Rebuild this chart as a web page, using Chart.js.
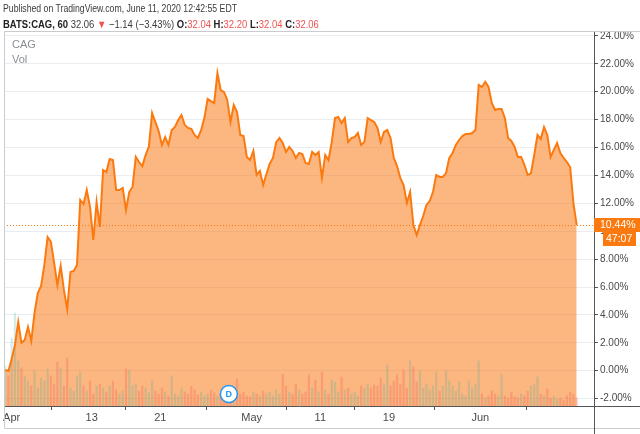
<!DOCTYPE html>
<html>
<head>
<meta charset="utf-8">
<script src="https://cdn.jsdelivr.net/npm/chart.js@4.4.0/dist/chart.umd.min.js"></script>
<style>
  html, body { margin: 0; padding: 0; background: #fff; }
  #wrap { position: relative; width: 640px; height: 434px; overflow: hidden; }
  #c { position: absolute; left: 0; top: 0; }
  .txt { position: absolute; white-space: nowrap; font-family: 'Liberation Sans', sans-serif; font-size: 11px; color: #3b3b3b; transform-origin: left top; }
  .b { font-weight: bold; color: #222; }
  .r { color: #ef5350; }
  .lg { color: #8a8d96; font-size: 11px; }
</style>
</head>
<body>
<div id="wrap">
  <canvas id="c" width="640" height="434"></canvas>
  <div class="txt" style="left:3px; top:2px; transform: scaleX(0.79);">Published on TradingView.com, June 11, 2020 12:42:55 EDT</div>
  <div class="txt" style="left:3px; top:18px; transform: scaleX(0.86);"><span class="b">BATS:CAG, 60</span> 32.06 <span class="r">▼</span> −1.14 (−3.43%) <span class="b">O:</span><span class="r">32.04</span> <span class="b">H:</span><span class="r">32.20</span> <span class="b">L:</span><span class="r">32.04</span> <span class="b">C:</span><span class="r">32.06</span></div>
  <div class="txt lg" style="left:12px; top:38px;">CAG</div>
  <div class="txt lg" style="left:12px; top:53px;">Vol</div>
</div>
<script>
// hourly bars, index 0 = Apr 1 09:30, one value every 2 bars
const firstBar = -4;
const barStep = 2;
const tickBars = [0, 49, 91, 147, 189, 231, 287];
const tickLabels = ['Apr', '13', '21', 'May', '11', '19', 'Jun'];
const yTicks = [-2, 0, 2, 4, 6, 8, 10, 12, 14, 16, 18, 20, 22, 24];
const dividendBar = 133;
const countdown = '47:07';

// % change since start
const pct = [
  0.05, -0.02, 0.84, 1.84, 3.49, 2.0, 2.20, 3.13, 2.13, 4.14,
  5.57, 6.07, 7.58, 9.58, 9.23, 7.72, 6.14, 7.51, 5.79, 4.4,
  7.08, 7.15, 7.58, 12.24, 11.95, 12.95, 11.73, 9.37, 12.09, 10.30,
  14.39, 14.24, 15.18, 15.10, 12.95, 12.95, 13.10, 11.52, 12.81, 13.17,
  15.32, 14.96, 14.67, 15.46, 16.04, 18.47, 17.83, 17.18, 16.18, 16.75,
  16.18, 17.25, 17.47, 17.97, 18.33, 17.61, 17.40, 17.33, 16.90, 16.68,
  17.25, 18.11, 19.48, 19.33, 19.19, 21.34, 20.12, 19.98, 19.41, 17.83,
  19.05, 18.54, 16.90, 16.82, 15.32, 15.10, 15.75, 14.03, 14.32, 13.31,
  14.10, 14.82, 15.25, 16.39, 16.68, 16.32, 15.68, 16.04, 15.75, 15.25,
  15.61, 15.53, 14.89, 14.82, 15.68, 15.46, 15.68, 13.81, 15.46, 15.10,
  16.39, 18.11, 18.19, 17.76, 18.11, 16.39, 16.68, 16.75, 17.04, 16.18,
  16.39, 18.11, 17.97, 17.83, 17.40, 16.39, 17.11, 17.25, 16.68, 15.25,
  14.67, 13.81, 13.31, 12.02, 12.81, 10.44, 9.73, 10.44, 11.09, 11.88,
  12.16, 12.81, 14.03, 13.89, 13.89, 14.17, 15.25, 15.61, 16.18, 16.54,
  16.82, 16.97, 16.97, 17.04, 17.25, 20.48, 20.34, 20.70, 20.34, 19.19,
  18.69, 18.76, 18.76, 18.11, 16.68, 16.47, 16.04, 15.32, 15.32, 14.75,
  14.03, 14.17, 15.46, 16.90, 16.61, 17.47, 16.90, 15.32, 15.82, 16.32,
  15.61, 15.25, 14.96, 14.60, 12.02, 10.44
];

// volume, thousands of shares
const vol = [
  400, 300, 680, 930, 450, 380, 300, 250, 200, 350,
  180, 280, 250, 370, 300, 220, 440, 380, 200, 480,
  180, 150, 300, 340, 200, 150, 250, 120, 200, 220,
  180, 140, 200, 250, 160, 120, 150, 370, 360, 200,
  220, 150, 200, 180, 130, 250, 150, 120, 180, 140,
  100, 300, 120, 100, 180, 140, 120, 200, 160, 110,
  140, 100, 120, 160, 130, 100, 120, 90, 120, 160,
  100, 270, 120, 140, 100, 90, 140, 120, 100, 150,
  120, 140, 100, 160, 120, 320, 200, 140, 120, 220,
  160, 120, 140, 310, 180, 260, 140, 340, 160, 120,
  260, 240, 140, 290, 160, 180, 120, 140, 100, 200,
  180, 220, 180, 210, 200, 280, 220, 410, 200, 250,
  310, 220, 360, 180, 450, 390, 240, 350, 180, 220,
  160, 200, 340, 150, 200, 350, 250, 200, 150, 240,
  120, 100, 250, 180, 220, 450, 120, 80, 100, 150,
  120, 100, 320, 100, 80, 140, 90, 80, 120, 100,
  150, 200, 220, 290, 120, 100, 170, 80, 100, 70,
  80, 60, 100, 140, 120, 80
];

const bars = pct.map((_, i) => firstBar + i * barStep);
const lineData = pct.map((v, i) => ({ x: bars[i], y: v }));
const volData = vol.map((v, i) => ({ x: bars[i], y: v }));
const volColors = pct.map((v, i) => (i === 0 || v >= pct[i - 1]) ? 'rgba(38,166,154,0.2)' : 'rgba(239,83,80,0.28)');

const FONT = "'Liberation Sans', sans-serif";
const ORANGE = '#fb7a10';

const overlay = {
  id: 'overlay',
  afterDatasetsDraw(chart) {
    const { ctx, chartArea: a, scales } = chart;
    const last = pct[pct.length - 1];
    const y = Math.round(scales.y.getPixelForValue(last)) + 0.5;
    ctx.save();
    ctx.strokeStyle = ORANGE;
    ctx.lineWidth = 1;
    ctx.setLineDash([1, 2]);
    ctx.beginPath(); ctx.moveTo(a.left, y); ctx.lineTo(a.right, y); ctx.stroke();
    ctx.setLineDash([]);
    // dividend marker
    const dx = scales.x.getPixelForValue(dividendBar);
    const dy = a.bottom - 12;
    ctx.beginPath(); ctx.arc(dx, dy, 8.5, 0, Math.PI * 2);
    ctx.fillStyle = '#fff'; ctx.fill();
    ctx.strokeStyle = '#2196f3'; ctx.lineWidth = 1.5; ctx.stroke();
    ctx.fillStyle = '#2196f3'; ctx.font = 'bold 9px ' + FONT;
    ctx.textAlign = 'center'; ctx.textBaseline = 'middle';
    ctx.fillText('D', dx, dy + 0.5);
    ctx.restore();
  },
  afterDraw(chart) {
    const { ctx, chartArea: a, scales, width } = chart;
    const last = pct[pct.length - 1];
    const y = Math.round(scales.y.getPixelForValue(last));
    ctx.save();
    // frame
    ctx.strokeStyle = '#c9cbd1';
    ctx.lineWidth = 1;
    ctx.beginPath();
    ctx.moveTo(4.5, 428); ctx.lineTo(4.5, a.top - 0.5); ctx.lineTo(width, a.top - 0.5);
    ctx.moveTo(4.5, 428.5); ctx.lineTo(width, 428.5);
    ctx.stroke();
    ctx.strokeStyle = '#555';
    ctx.beginPath();
    ctx.moveTo(a.right, a.bottom + 0.5); ctx.lineTo(width, a.bottom + 0.5);
    ctx.moveTo(a.right + 0.5, a.bottom); ctx.lineTo(a.right + 0.5, 434);
    ctx.stroke();
    // price tag
    ctx.fillStyle = ORANGE;
    ctx.fillRect(a.right, y - 7, width - a.right, 14);
    ctx.fillRect(a.right + 9, y + 7, 33, 14);
    ctx.fillStyle = '#fff';
    ctx.font = '10.5px ' + FONT;
    ctx.textBaseline = 'middle';
    ctx.textAlign = 'left';
    ctx.fillText(last.toFixed(2) + '%', a.right + 6, y + 0.5);
    ctx.fillText(countdown, a.right + 12, y + 14.5);
    ctx.restore();
  }
};

new Chart(document.getElementById('c'), {
  type: 'line',
  data: {
    datasets: [
      {
        type: 'line',
        label: 'CAG',
        data: lineData,
        borderColor: ORANGE,
        borderWidth: 2,
        backgroundColor: 'rgba(250,122,22,0.54)',
        fill: 'start',
        pointRadius: 0,
        tension: 0,
        yAxisID: 'y',
        order: 0
      },
      {
        type: 'bar',
        label: 'Vol',
        data: volData,
        backgroundColor: volColors,
        barThickness: 1.6,
        yAxisID: 'v',
        order: 1
      }
    ]
  },
  options: {
    responsive: false,
    animation: false,
    events: [],
    layout: { padding: { left: 4, top: 32, right: 0, bottom: 6 } },
    plugins: {
      legend: { display: false },
      tooltip: { enabled: false },
      filler: { drawTime: 'beforeDatasetsDraw' }
    },
    scales: {
      x: {
        type: 'linear',
        min: -4.7,
        max: 356.6,
        offset: false,
        afterBuildTicks: s => { s.ticks = tickBars.map(v => ({ value: v })); },
        afterFit: s => { s.height = 22; },
        ticks: {
          callback: (v, i) => tickLabels[i],
          autoSkip: false,
          maxRotation: 0,
          padding: 1,
          color: '#4a4a4a',
          font: { size: 11, family: FONT }
        },
        grid: { drawOnChartArea: false, tickLength: 4, tickColor: '#555' },
        border: { color: '#555' }
      },
      y: {
        position: 'right',
        min: -2.53,
        max: 24.28,
        afterBuildTicks: s => { s.ticks = yTicks.map(v => ({ value: v })); },
        afterFit: s => { s.width = 46; },
        ticks: {
          callback: v => v.toFixed(2) + '%',
          padding: 2,
          color: '#4a4a4a',
          font: { size: 10, family: FONT }
        },
        grid: { color: '#e9edf2', tickColor: '#555', tickLength: 4 },
        border: { color: '#555' }
      },
      v: {
        display: false,
        min: 0,
        max: 3740
      }
    }
  },
  plugins: [overlay]
});
</script>
</body>
</html>
